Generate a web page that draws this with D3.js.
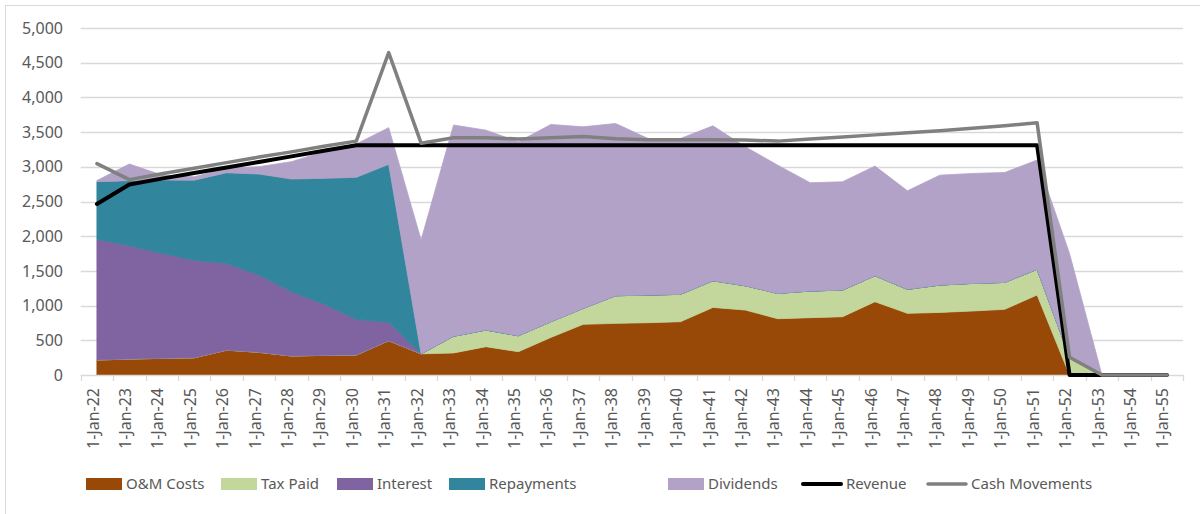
<!DOCTYPE html>
<html>
<head>
<meta charset="utf-8">
<script src="https://cdn.jsdelivr.net/npm/d3@7"></script>
<style>
  body { margin: 0; background: #fff; }
  text { font-family: "Noto Sans", "Open Sans", sans-serif; fill: #595959; }
</style>
</head>
<body>
<svg id="chart" width="1200" height="514"></svg>
<script>
const years = ['22','23','24','25','26','27','28','29','30','31','32','33','34','35','36','37','38',
  '39','40','41','42','43','44','45','46','47','48','49','50','51','52','53','54','55'];
const categories = years.map(y => '1-Jan-' + y);

const omCosts = [216,230,240,248,358,327,274,283,288,494,305,318,408,336,542,730,744,
  754,768,974,936,811,826,840,1056,888,902,922,946,1153,0,0,0,0];
const taxPaid = [0,0,0,0,0,0,0,0,0,0,0,240,240,230,226,230,398,
  398,394,384,350,365,384,384,374,346,394,398,388,370,260,0,0,0];
const interest = [1739,1634,1513,1407,1250,1114,927,740,514,265,0,0,0,0,0,0,0,
  0,0,0,0,0,0,0,0,0,0,0,0,0,0,0,0,0];
const repayments = [831,936,1057,1153,1306,1455,1623,1811,2046,2276,0,0,0,0,0,0,0,
  0,0,0,0,0,0,0,0,0,0,0,0,0,0,0,0,0];
const dividends = [15,240,72,48,63,106,250,384,482,529,1640,3044,2880,2794,2842,2616,2482,
  2256,2246,2232,2002,1848,1560,1560,1580,1420,1584,1584,1584,1575,1490,0,0,0];
const revenue = [2464,2745,2830,2910,2990,3070,3150,3230,3310,3310,3310,3310,3310,3310,3310,3310,3310,
  3310,3310,3310,3310,3310,3310,3310,3310,3310,3310,3310,3310,3310,0,0,0,0];
const cashMovements = [3045,2815,2900,2980,3060,3140,3215,3295,3370,4645,3340,3420,3420,3400,3420,3435,3405,
  3390,3390,3390,3385,3370,3400,3430,3460,3490,3520,3555,3590,3635,255,0,0,0];

const yTicks = [0,500,1000,1500,2000,2500,3000,3500,4000,4500,5000];

const areaSeries = [
  { name: 'O&M Costs', values: omCosts, color: '#984807' },
  { name: 'Tax Paid', values: taxPaid, color: '#C3D69B' },
  { name: 'Interest', values: interest, color: '#8064A2' },
  { name: 'Repayments', values: repayments, color: '#31859C' },
  { name: 'Dividends', values: dividends, color: '#B3A2C7' }
];
const lineSeries = [
  { name: 'Revenue', values: revenue, color: '#000000', width: 4 },
  { name: 'Cash Movements', values: cashMovements, color: '#808080', width: 3.5 }
];

drawChart();

function drawChart() {
  const svg = d3.select('#chart');

  const xScale = d3.scaleBand().domain(categories).range([80.7, 1183]).padding(0);
  const yScale = d3.scaleLinear().domain([0, 5000]).range([375, 28]);
  const cx = d => xScale(d) + xScale.bandwidth() / 2;

  // outer border of the chart area
  svg.append('rect')
      .attr('x', 5.5).attr('y', 5.5)
      .attr('width', 1200).attr('height', 520)
      .attr('fill', 'none').attr('stroke', '#d9d9d9');

  // gridlines
  svg.append('g').selectAll('line')
      .data(yTicks.slice(1))
      .enter()
      .append('line')
      .attr('x1', 80.7).attr('x2', 1183)
      .attr('y1', d => Math.round(yScale(d)) + 0.5)
      .attr('y2', d => Math.round(yScale(d)) + 0.5)
      .attr('stroke', '#d9d9d9')
      .attr('stroke-width', 1.3);

  // y axis labels
  const yAxis = d3.axisLeft(yScale).tickValues(yTicks).tickSize(0).tickPadding(0)
      .tickFormat(d3.format(','));
  svg.append('g')
      .attr('transform', 'translate(63,0)')
      .call(yAxis)
      .call(g => g.select('.domain').remove())
      .call(g => g.selectAll('text')
          .attr('font-size', 16)
          .attr('font-family', null)
          .attr('fill', '#595959'));

  // stacked areas
  const rows = categories.map((c, i) => {
    const r = { cat: c };
    areaSeries.forEach(s => { r[s.name] = s.values[i]; });
    return r;
  });
  const stack = d3.stack().keys(areaSeries.map(s => s.name));
  const layers = stack(rows);

  const area = d3.area()
      .x(d => cx(d.data.cat))
      .y0(d => yScale(d[0]))
      .y1(d => yScale(d[1]));

  svg.append('g').selectAll('path')
      .data(layers)
      .enter()
      .append('path')
      .attr('d', area)
      .attr('fill', (d, i) => areaSeries[i].color)
      .attr('stroke', (d, i) => areaSeries[i].color)
      .attr('stroke-width', 0.8);

  // x axis
  svg.append('line')
      .attr('x1', 80.7).attr('x2', 1183)
      .attr('y1', 375.5).attr('y2', 375.5)
      .attr('stroke', '#d9d9d9').attr('stroke-width', 1.3);
  const edges = categories.map(c => xScale(c)).concat([1183]);
  svg.append('g').selectAll('line')
      .data(edges)
      .enter()
      .append('line')
      .attr('x1', d => Math.round(d) + 0.5).attr('x2', d => Math.round(d) + 0.5)
      .attr('y1', 375).attr('y2', 381)
      .attr('stroke', '#d9d9d9').attr('stroke-width', 1.3);

  svg.append('g').selectAll('text')
      .data(categories)
      .enter()
      .append('text')
      .attr('transform', d => 'translate(' + (cx(d) - 4) + ',388) rotate(-90)')
      .attr('text-anchor', 'end')
      .attr('dy', '0.35em')
      .attr('font-size', 16)
      .text(d => d);

  // lines
  const line = d3.line()
      .x((d, i) => cx(categories[i]))
      .y(d => yScale(d));

  svg.append('g').selectAll('path')
      .data(lineSeries)
      .enter()
      .append('path')
      .attr('d', d => line(d.values))
      .attr('fill', 'none')
      .attr('stroke', d => d.color)
      .attr('stroke-width', d => d.width)
      .attr('stroke-linejoin', 'round')
      .attr('stroke-linecap', 'round');

  // legend
  const legendY = 484;
  const legendItems = [
    { x: 86, item: areaSeries[0] },
    { x: 221, item: areaSeries[1] },
    { x: 337, item: areaSeries[2] },
    { x: 449, item: areaSeries[3] },
    { x: 668, item: areaSeries[4] }
  ];
  const legend = svg.append('g');
  legendItems.forEach(l => {
    legend.append('rect')
        .attr('x', l.x).attr('y', legendY - 6)
        .attr('width', 36).attr('height', 12)
        .attr('fill', l.item.color);
    legend.append('text')
        .attr('x', l.x + 40).attr('y', legendY)
        .attr('dy', '0.35em')
        .attr('font-size', 15)
        .text(l.item.name);
  });
  const lineLegend = [
    { x: 803, item: lineSeries[0] },
    { x: 928, item: lineSeries[1] }
  ];
  lineLegend.forEach(l => {
    legend.append('line')
        .attr('x1', l.x).attr('x2', l.x + 38)
        .attr('y1', legendY).attr('y2', legendY)
        .attr('stroke', l.item.color)
        .attr('stroke-width', l.item.width)
        .attr('stroke-linecap', 'round');
    legend.append('text')
        .attr('x', l.x + 43).attr('y', legendY)
        .attr('dy', '0.35em')
        .attr('font-size', 15)
        .text(l.item.name);
  });
}
</script>
</body>
</html>
